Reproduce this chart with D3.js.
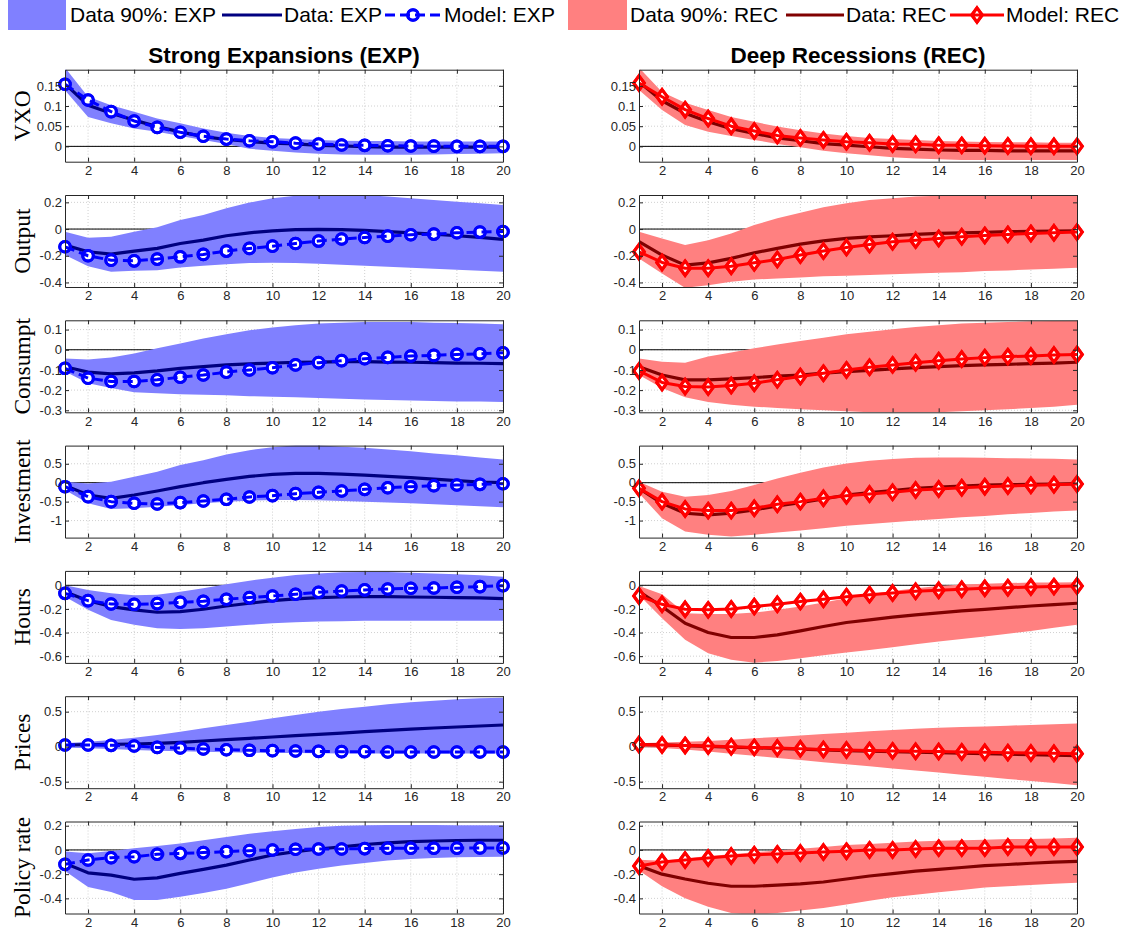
<!DOCTYPE html>
<html><head><meta charset="utf-8">
<script src="https://cdn.jsdelivr.net/npm/d3@7/dist/d3.min.js"></script>
<style>body{margin:0;background:#fff}svg{display:block}</style>
</head><body>
<svg id="chart" width="1133" height="935"></svg>
<script>
// ---------- DATA ----------
const horizons = [1,2,3,4,5,6,7,8,9,10,11,12,13,14,15,16,17,18,19,20];
const xTickValues = [2,4,6,8,10,12,14,16,18,20];
const variables = ["VXO","Output","Consumpt","Investment","Hours","Prices","Policy rate"];
const columnTitles = ["Strong Expansions (EXP)","Deep Recessions (REC)"];
const legendLabels = ["Data 90%: EXP","Data: EXP","Model: EXP","Data 90%: REC","Data: REC","Model: REC"];
const yDomains = [[-0.038,0.19],[-0.434,0.255],[-0.31,0.146],[-1.45,0.98],[-0.657,0.122],[-0.593,0.721],[-0.525,0.235]];
const yTickValues = [[0,0.05,0.1,0.15],[-0.4,-0.2,0,0.2],[-0.3,-0.2,-0.1,0,0.1],[-1,-0.5,0,0.5],[-0.6,-0.4,-0.2,0],[-0.5,0,0.5],[-0.4,-0.2,0,0.2]];

// VXO
const vxoExpLo = [0.139,0.073,0.057,0.044,0.036,0.026,0.016,0.006,-0.006,-0.011,-0.015,-0.018,-0.02,-0.021,-0.021,-0.021,-0.02,-0.019,-0.018,-0.017];
const vxoExpHi = [0.195,0.123,0.102,0.086,0.069,0.057,0.044,0.034,0.026,0.021,0.018,0.016,0.014,0.013,0.013,0.012,0.012,0.012,0.012,0.012];
const vxoExpData = [0.155,0.102,0.082,0.065,0.049,0.036,0.024,0.017,0.012,0.008,0.006,0.0025,0.001,-0.001,-0.002,-0.002,-0.002,-0.002,-0.002,-0.002];
const vxoExpModel = [0.154,0.115,0.086,0.063,0.047,0.035,0.025,0.018,0.014,0.0115,0.008,0.006,0.0035,0.0025,0.0016,0.001,0.0005,0,0,0];
const vxoRecLo = [0.14,0.09,0.053,0.036,0.026,0.016,0.006,-0.002,-0.011,-0.017,-0.022,-0.027,-0.03,-0.032,-0.034,-0.034,-0.034,-0.034,-0.034,-0.034];
const vxoRecHi = [0.195,0.135,0.108,0.09,0.073,0.061,0.049,0.04,0.032,0.026,0.021,0.018,0.016,0.013,0.012,0.011,0.01,0.01,0.009,0.009];
const vxoRecData = [0.16,0.113,0.082,0.061,0.044,0.032,0.021,0.014,0.007,0.003,-0.001,-0.005,-0.007,-0.009,-0.01,-0.01,-0.011,-0.011,-0.011,-0.011];
const vxoRecModel = [0.157,0.123,0.091,0.069,0.05,0.038,0.027,0.021,0.016,0.0115,0.009,0.006,0.005,0.003,0.0025,0.0016,0.001,0.0005,0.0003,0];
// Output
const outExpLo = [-0.195,-0.278,-0.32,-0.313,-0.308,-0.288,-0.275,-0.263,-0.255,-0.253,-0.255,-0.26,-0.268,-0.275,-0.283,-0.29,-0.298,-0.305,-0.313,-0.32];
const outExpHi = [-0.02,-0.065,-0.058,-0.02,0.013,0.068,0.105,0.155,0.198,0.23,0.25,0.26,0.26,0.255,0.243,0.23,0.218,0.205,0.193,0.18];
const outExpData = [-0.12,-0.17,-0.188,-0.165,-0.145,-0.108,-0.083,-0.05,-0.028,-0.013,-0.005,-0.003,-0.005,-0.01,-0.02,-0.028,-0.038,-0.05,-0.063,-0.078];
const outExpModel = [-0.133,-0.2,-0.233,-0.238,-0.225,-0.208,-0.19,-0.165,-0.145,-0.128,-0.108,-0.09,-0.075,-0.063,-0.053,-0.043,-0.038,-0.028,-0.023,-0.018];
const outRecLo = [-0.22,-0.333,-0.44,-0.42,-0.395,-0.378,-0.37,-0.363,-0.353,-0.35,-0.345,-0.338,-0.333,-0.328,-0.323,-0.315,-0.31,-0.303,-0.298,-0.29];
const outRecHi = [-0.02,-0.07,-0.12,-0.083,-0.033,0.03,0.08,0.123,0.163,0.193,0.218,0.23,0.243,0.25,0.255,0.255,0.255,0.25,0.25,0.25];
const outRecData = [-0.095,-0.195,-0.27,-0.253,-0.22,-0.178,-0.145,-0.113,-0.088,-0.07,-0.058,-0.05,-0.04,-0.033,-0.028,-0.025,-0.02,-0.018,-0.015,-0.013];
const outRecModel = [-0.17,-0.25,-0.293,-0.293,-0.278,-0.253,-0.228,-0.195,-0.165,-0.138,-0.115,-0.095,-0.083,-0.07,-0.058,-0.048,-0.04,-0.033,-0.028,-0.023];
// Consumption
const conExpLo = [-0.108,-0.166,-0.19,-0.211,-0.216,-0.22,-0.223,-0.226,-0.23,-0.233,-0.236,-0.239,-0.243,-0.246,-0.249,-0.252,-0.254,-0.256,-0.257,-0.259];
const conExpHi = [-0.043,-0.048,-0.038,-0.018,0.007,0.031,0.056,0.077,0.097,0.11,0.121,0.13,0.134,0.138,0.138,0.138,0.134,0.132,0.13,0.126];
const conExpData = [-0.084,-0.111,-0.12,-0.115,-0.105,-0.092,-0.084,-0.075,-0.07,-0.066,-0.062,-0.061,-0.059,-0.059,-0.061,-0.062,-0.064,-0.066,-0.067,-0.069];
const conExpModel = [-0.092,-0.141,-0.157,-0.157,-0.149,-0.136,-0.125,-0.111,-0.1,-0.089,-0.075,-0.064,-0.054,-0.044,-0.038,-0.031,-0.028,-0.023,-0.02,-0.015];
const conRecLo = [-0.125,-0.19,-0.236,-0.259,-0.272,-0.282,-0.289,-0.295,-0.3,-0.305,-0.31,-0.312,-0.312,-0.31,-0.305,-0.3,-0.295,-0.289,-0.282,-0.272];
const conRecHi = [-0.043,-0.059,-0.064,-0.034,-0.013,0.007,0.026,0.043,0.059,0.077,0.089,0.102,0.113,0.121,0.13,0.134,0.138,0.141,0.143,0.144];
const conRecData = [-0.084,-0.125,-0.149,-0.149,-0.144,-0.138,-0.131,-0.125,-0.116,-0.108,-0.102,-0.095,-0.089,-0.084,-0.079,-0.075,-0.072,-0.069,-0.066,-0.062];
const conRecModel = [-0.105,-0.162,-0.182,-0.185,-0.177,-0.166,-0.149,-0.133,-0.116,-0.1,-0.087,-0.075,-0.064,-0.054,-0.046,-0.039,-0.034,-0.031,-0.026,-0.023];
// Investment
const invExpLo = [-0.193,-0.544,-0.693,-0.675,-0.632,-0.588,-0.544,-0.5,-0.474,-0.456,-0.456,-0.465,-0.482,-0.5,-0.526,-0.544,-0.57,-0.596,-0.623,-0.649];
const invExpHi = [0.026,-0.018,0.026,0.158,0.289,0.465,0.596,0.746,0.86,0.939,0.99,0.99,0.947,0.921,0.877,0.833,0.772,0.728,0.667,0.614];
const invExpData = [-0.07,-0.325,-0.412,-0.325,-0.219,-0.105,0,0.088,0.167,0.219,0.246,0.246,0.228,0.202,0.167,0.132,0.096,0.053,0.018,0];
const invExpModel = [-0.105,-0.368,-0.5,-0.544,-0.561,-0.526,-0.482,-0.439,-0.377,-0.342,-0.289,-0.254,-0.219,-0.175,-0.132,-0.105,-0.079,-0.061,-0.044,-0.026];
const invRecLo = [-0.281,-0.939,-1.29,-1.377,-1.42,-1.377,-1.316,-1.263,-1.2,-1.14,-1.088,-1.044,-1.0,-0.956,-0.912,-0.877,-0.833,-0.798,-0.763,-0.737];
const invRecHi = [0.026,-0.237,-0.368,-0.325,-0.219,-0.061,0.114,0.263,0.404,0.509,0.579,0.623,0.658,0.667,0.667,0.658,0.649,0.64,0.632,0.614];
const invRecData = [-0.149,-0.544,-0.807,-0.851,-0.807,-0.719,-0.614,-0.526,-0.43,-0.325,-0.263,-0.211,-0.149,-0.114,-0.088,-0.061,-0.053,-0.044,-0.035,-0.026];
const invRecModel = [-0.149,-0.5,-0.693,-0.737,-0.737,-0.675,-0.57,-0.5,-0.412,-0.342,-0.298,-0.254,-0.193,-0.167,-0.132,-0.105,-0.088,-0.07,-0.053,-0.035];
// Hours
const hrsExpLo = [-0.096,-0.208,-0.293,-0.335,-0.363,-0.369,-0.363,-0.349,-0.335,-0.321,-0.313,-0.307,-0.304,-0.301,-0.301,-0.301,-0.301,-0.301,-0.301,-0.301];
const hrsExpHi = [0,-0.039,-0.068,-0.085,-0.079,-0.054,-0.025,0.008,0.039,0.065,0.087,0.101,0.11,0.113,0.113,0.107,0.101,0.093,0.085,0.073];
const hrsExpData = [-0.054,-0.13,-0.18,-0.208,-0.228,-0.223,-0.203,-0.175,-0.152,-0.13,-0.115,-0.104,-0.099,-0.096,-0.096,-0.099,-0.101,-0.104,-0.107,-0.113];
const hrsExpModel = [-0.068,-0.13,-0.158,-0.161,-0.155,-0.144,-0.135,-0.118,-0.104,-0.09,-0.076,-0.059,-0.048,-0.039,-0.031,-0.025,-0.023,-0.017,-0.011,-0.003];
const hrsRecLo = [-0.082,-0.279,-0.462,-0.575,-0.631,-0.655,-0.64,-0.617,-0.593,-0.569,-0.547,-0.524,-0.5,-0.476,-0.455,-0.434,-0.41,-0.386,-0.36,-0.335];
const hrsRecHi = [-0.006,-0.075,-0.237,-0.242,-0.242,-0.231,-0.208,-0.18,-0.146,-0.11,-0.076,-0.048,-0.025,-0.006,0.006,0.014,0.019,0.023,0.024,0.025];
const hrsRecData = [-0.054,-0.18,-0.321,-0.4,-0.442,-0.442,-0.42,-0.386,-0.349,-0.315,-0.293,-0.27,-0.251,-0.234,-0.217,-0.203,-0.189,-0.175,-0.163,-0.152];
const hrsRecModel = [-0.09,-0.161,-0.203,-0.208,-0.2,-0.18,-0.161,-0.138,-0.118,-0.096,-0.079,-0.065,-0.051,-0.042,-0.034,-0.025,-0.02,-0.014,-0.011,-0.006];
// Prices
const prcExpLo = [-0.01,-0.024,-0.033,-0.048,-0.057,-0.067,-0.071,-0.081,-0.086,-0.09,-0.092,-0.095,-0.096,-0.097,-0.097,-0.098,-0.098,-0.098,-0.098,-0.098];
const prcExpHi = [0.048,0.071,0.095,0.129,0.167,0.214,0.262,0.31,0.357,0.405,0.452,0.5,0.538,0.571,0.605,0.633,0.657,0.676,0.69,0.7];
const prcExpData = [0.024,0.029,0.033,0.038,0.048,0.062,0.081,0.1,0.119,0.138,0.157,0.176,0.195,0.214,0.233,0.252,0.267,0.281,0.295,0.31];
const prcExpModel = [0.024,0.024,0.019,0.01,-0.01,-0.019,-0.033,-0.043,-0.052,-0.057,-0.062,-0.067,-0.071,-0.071,-0.076,-0.076,-0.076,-0.076,-0.076,-0.076];
const prcRecLo = [0,-0.02,-0.042,-0.068,-0.1,-0.13,-0.16,-0.19,-0.222,-0.25,-0.28,-0.31,-0.34,-0.37,-0.4,-0.43,-0.46,-0.49,-0.52,-0.55];
const prcRecHi = [0.05,0.06,0.07,0.082,0.1,0.12,0.14,0.16,0.18,0.2,0.22,0.238,0.255,0.27,0.28,0.29,0.3,0.31,0.32,0.33];
const prcRecData = [0.03,0.025,0.015,0.005,-0.005,-0.015,-0.025,-0.035,-0.045,-0.055,-0.063,-0.07,-0.077,-0.085,-0.092,-0.1,-0.107,-0.113,-0.12,-0.127];
const prcRecModel = [0.03,0.025,0.018,0.01,0,-0.01,-0.02,-0.03,-0.04,-0.048,-0.055,-0.06,-0.066,-0.07,-0.075,-0.08,-0.085,-0.09,-0.095,-0.1];
// Policy rate
const polExpLo = [-0.173,-0.307,-0.347,-0.413,-0.413,-0.387,-0.355,-0.32,-0.275,-0.227,-0.187,-0.155,-0.128,-0.107,-0.088,-0.075,-0.067,-0.061,-0.059,-0.056];
const polExpHi = [-0.013,-0.027,-0.008,0.013,0.032,0.053,0.08,0.107,0.133,0.155,0.173,0.189,0.2,0.205,0.207,0.207,0.207,0.205,0.205,0.205];
const polExpData = [-0.111,-0.189,-0.208,-0.242,-0.231,-0.194,-0.161,-0.125,-0.083,-0.042,-0.014,0.008,0.025,0.045,0.058,0.068,0.074,0.078,0.08,0.08];
const polExpModel = [-0.119,-0.083,-0.064,-0.056,-0.036,-0.028,-0.022,-0.014,-0.006,0,0.006,0.008,0.008,0.011,0.014,0.014,0.014,0.015,0.017,0.017];
const polRecLo = [-0.17,-0.3,-0.4,-0.47,-0.52,-0.54,-0.52,-0.5,-0.48,-0.45,-0.42,-0.39,-0.37,-0.35,-0.33,-0.31,-0.3,-0.29,-0.28,-0.27];
const polRecHi = [-0.08,-0.09,-0.07,-0.05,-0.035,-0.02,-0.005,0.01,0.025,0.04,0.05,0.06,0.07,0.075,0.08,0.085,0.09,0.09,0.095,0.1];
const polRecData = [-0.13,-0.2,-0.24,-0.275,-0.3,-0.3,-0.29,-0.28,-0.265,-0.24,-0.215,-0.195,-0.175,-0.16,-0.145,-0.13,-0.12,-0.11,-0.1,-0.095];
const polRecModel = [-0.133,-0.1,-0.083,-0.067,-0.05,-0.04,-0.033,-0.025,-0.017,-0.01,0,0,0.008,0.015,0.015,0.015,0.025,0.025,0.025,0.025];

// table built from the arrays: [variable][column] -> [lo, hi, data, model]
const series = [
  [[vxoExpLo,vxoExpHi,vxoExpData,vxoExpModel],[vxoRecLo,vxoRecHi,vxoRecData,vxoRecModel]],
  [[outExpLo,outExpHi,outExpData,outExpModel],[outRecLo,outRecHi,outRecData,outRecModel]],
  [[conExpLo,conExpHi,conExpData,conExpModel],[conRecLo,conRecHi,conRecData,conRecModel]],
  [[invExpLo,invExpHi,invExpData,invExpModel],[invRecLo,invRecHi,invRecData,invRecModel]],
  [[hrsExpLo,hrsExpHi,hrsExpData,hrsExpModel],[hrsRecLo,hrsRecHi,hrsRecData,hrsRecModel]],
  [[prcExpLo,prcExpHi,prcExpData,prcExpModel],[prcRecLo,prcRecHi,prcRecData,prcRecModel]],
  [[polExpLo,polExpHi,polExpData,polExpModel],[polRecLo,polRecHi,polRecData,polRecModel]]
];

// ---------- STYLE / LAYOUT ----------
const SANS = "'Liberation Sans', Arial, Helvetica, sans-serif";
const SERIF = "'Liberation Serif', 'Times New Roman', serif";
const AXIS_COLOR = "#262626";
const colStyle = [
  {band:"#8080FF", data:"#000080", model:"#0000FF", dash:"10,5", marker:"circle"},
  {band:"#FF8080", data:"#800000", model:"#FF0000", dash:null, marker:"diamond"}
];
const colX = [65, 639];
const plotW = 438, plotH = 92, rowTop0 = 69.7, rowStep = 125.3;
const MR = 5.3, MSW = 3;
const diamondPath = "M0,-7.2L5.3,0L0,7.2L-5.3,0Z";

const svg = d3.select("#chart");
const defs = svg.append("defs");
const x = d3.scaleLinear().domain([1,20]).range([0, plotW]);

function markers(g, pts, style, fill) {
  if (style.marker === "circle") {
    g.selectAll("circle").data(pts).join("circle")
      .attr("cx", d => d[0]).attr("cy", d => d[1]).attr("r", MR)
      .attr("fill", fill).attr("stroke", style.model).attr("stroke-width", MSW);
  } else {
    g.selectAll("path").data(pts).join("path")
      .attr("transform", d => `translate(${d[0]},${d[1]})`).attr("d", diamondPath)
      .attr("fill", fill).attr("stroke", style.model).attr("stroke-width", MSW);
  }
}

variables.forEach((vname, i) => {
  const top = rowTop0 + i * rowStep;
  const y = d3.scaleLinear().domain(yDomains[i]).range([plotH, 0]);
  [0,1].forEach(c => {
    const style = colStyle[c];
    const [lo, hi, dat, mod] = series[i][c];
    const g = svg.append("g").attr("transform", `translate(${colX[c]},${top})`);
    const clipId = `clip-${i}-${c}`;
    defs.append("clipPath").attr("id", clipId).append("rect")
      .attr("x", 0).attr("y", 0).attr("width", plotW).attr("height", plotH);

    // grid
    const grid = g.append("g").attr("stroke", "#d0d0d0").attr("stroke-width", 1).attr("stroke-dasharray", "1,2");
    grid.selectAll("line.gx").data(xTickValues).join("line").attr("class","gx")
      .attr("x1", d => x(d)).attr("x2", d => x(d)).attr("y1", 0).attr("y2", plotH);
    grid.selectAll("line.gy").data(yTickValues[i]).join("line").attr("class","gy")
      .attr("x1", 0).attr("x2", plotW).attr("y1", d => y(d)).attr("y2", d => y(d));

    // zero line
    g.append("line").attr("x1", 0).attr("x2", plotW).attr("y1", y(0)).attr("y2", y(0))
      .attr("stroke", "#000").attr("stroke-width", 1);

    const clipped = g.append("g").attr("clip-path", `url(#${clipId})`);
    const area = d3.area().x((d, k) => x(horizons[k])).y0((d, k) => y(lo[k])).y1((d, k) => y(hi[k]));
    clipped.append("path").attr("d", area(horizons)).attr("fill", style.band).attr("stroke", "none");
    const line = arr => d3.line().x((d, k) => x(horizons[k])).y((d, k) => y(arr[k]))(horizons);
    clipped.append("path").attr("d", line(dat)).attr("fill", "none")
      .attr("stroke", style.data).attr("stroke-width", 3.2).attr("stroke-linejoin", "round");

    const pts = horizons.map((h, k) => [x(h), y(mod[k])]);
    markers(g.append("g"), pts, style, "#fff");
    const ml = g.append("g").attr("clip-path", `url(#${clipId})`).append("path")
      .attr("d", line(mod)).attr("fill", "none")
      .attr("stroke", style.model).attr("stroke-width", 3).attr("stroke-linejoin", "round");
    if (style.dash) ml.attr("stroke-dasharray", style.dash);
    markers(g.append("g"), pts, style, "none");

    // axes
    const fmt = d => String(d);
    const axB = g.append("g").attr("transform", `translate(0,${plotH})`)
      .call(d3.axisBottom(x).tickValues(xTickValues).tickSizeInner(-4).tickSizeOuter(0).tickPadding(4).tickFormat(fmt));
    const axT = g.append("g")
      .call(d3.axisTop(x).tickValues(xTickValues).tickSizeInner(-4).tickSizeOuter(0).tickFormat(""));
    const axL = g.append("g")
      .call(d3.axisLeft(y).tickValues(yTickValues[i]).tickSizeInner(-4).tickSizeOuter(0).tickPadding(3).tickFormat(fmt));
    const axR = g.append("g").attr("transform", `translate(${plotW},0)`)
      .call(d3.axisRight(y).tickValues(yTickValues[i]).tickSizeInner(-4).tickSizeOuter(0).tickFormat(""));
    [axB, axT, axL, axR].forEach(a => {
      a.select(".domain").attr("stroke", AXIS_COLOR).attr("stroke-width", 1);
      a.selectAll(".tick line").attr("stroke", AXIS_COLOR).attr("stroke-width", 1);
      a.selectAll(".tick text").attr("fill", AXIS_COLOR).style("font-family", SANS).style("font-size", "13px");
    });

    if (c === 0) {
      svg.append("text")
        .attr("transform", `translate(22,${top + plotH / 2}) rotate(-90)`)
        .attr("text-anchor", "middle").attr("dy", "0.35em")
        .style("font-family", SERIF).style("font-size", "23.5px").attr("fill", "#000")
        .text(vname);
    }
  });
});

// column titles
columnTitles.forEach((t, c) => {
  svg.append("text").attr("x", colX[c] + plotW / 2).attr("y", 63)
    .attr("text-anchor", "middle").style("font-family", SANS).style("font-size", "22.5px")
    .style("font-weight", "bold").attr("fill", "#000").text(t);
});

// legend
const legendItems = [
  {kind:"patch", col:0, x0:8, x1:66, tx:70},
  {kind:"data", col:0, x0:222, x1:282, tx:284},
  {kind:"model", col:0, x0:385, x1:441, tx:444},
  {kind:"patch", col:1, x0:568, x1:627, tx:630},
  {kind:"data", col:1, x0:786, x1:844, tx:846},
  {kind:"model", col:1, x0:950, x1:1004, tx:1006}
];
const lg = svg.append("g");
legendItems.forEach((it, k) => {
  const st = colStyle[it.col];
  const cy = 15;
  if (it.kind === "patch") {
    lg.append("rect").attr("x", it.x0).attr("y", 0).attr("width", it.x1 - it.x0).attr("height", 30).attr("fill", st.band);
  } else if (it.kind === "data") {
    lg.append("line").attr("x1", it.x0).attr("x2", it.x1).attr("y1", cy).attr("y2", cy)
      .attr("stroke", st.data).attr("stroke-width", 3.2);
  } else {
    const mx = (it.x0 + it.x1) / 2;
    markers(lg.append("g"), [[mx, cy]], st, "#fff");
    const ln = lg.append("line").attr("x1", it.x0).attr("x2", it.x1).attr("y1", cy).attr("y2", cy)
      .attr("stroke", st.model).attr("stroke-width", 3);
    if (st.dash) ln.attr("stroke-dasharray", st.dash);
    markers(lg.append("g"), [[mx, cy]], st, "none");
  }
  lg.append("text").attr("x", it.tx).attr("y", 22).style("font-family", SANS).style("font-size", "21px")
    .attr("fill", "#000").text(legendLabels[k]);
});
</script>
</body></html>
